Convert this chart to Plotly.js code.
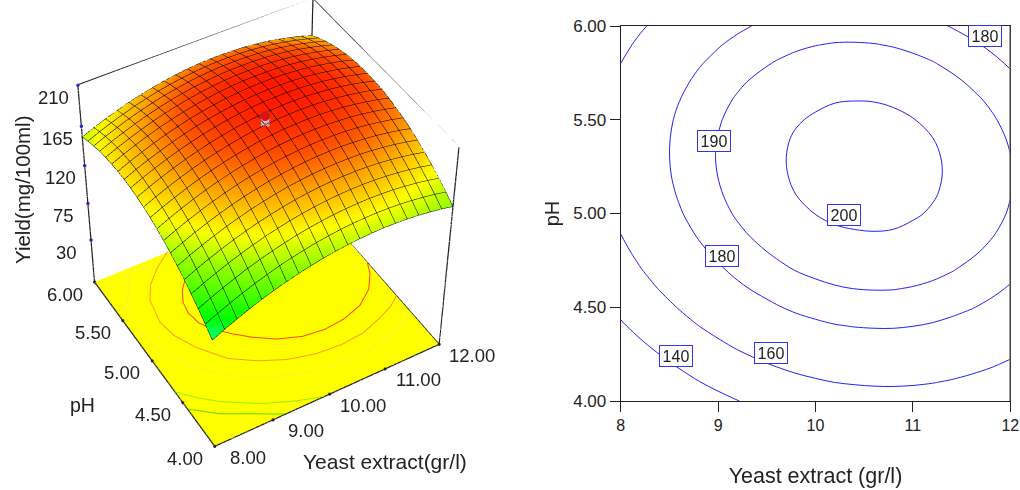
<!DOCTYPE html>
<html><head><meta charset="utf-8">
<script src="https://cdn.plot.ly/plotly-3.0.1.min.js"></script>
<style>html,body{margin:0;padding:0;background:#fff;overflow:hidden;width:1020px;height:490px}#w{width:1020px;height:490px;overflow:hidden;position:relative}#c{position:absolute;left:0;top:-555px;width:1020px;height:1600px}</style>
</head><body><div id="w"><div id="c"></div></div><script>
const yeast=[8,8.2,8.4,8.6,8.8,9,9.2,9.4,9.6,9.8,10,10.2,10.4,10.6,10.8,11,11.2,11.4,11.6,11.8,12];
const ph=[4,4.1,4.2,4.3,4.4,4.5,4.6,4.7,4.8,4.9,5,5.1,5.2,5.3,5.4,5.5,5.6,5.7,5.8,5.9,6];
const yieldZ=[
[108.8,115.2,121.0,126.4,131.4,135.8,139.7,143.1,146.1,148.7,150.7,152.3,153.3,153.9,154.1,153.7,152.9,151.5,149.7,147.5,144.7],
[117.1,123.4,129.2,134.5,139.5,143.8,147.8,151.1,154.0,156.6,158.5,160.1,161.0,161.6,161.7,161.3,160.4,159.0,157.1,154.9,152.0],
[124.7,131.0,136.7,142.0,146.9,151.2,155.1,158.4,161.3,163.8,165.7,167.2,168.1,168.6,168.7,168.2,167.3,165.8,163.9,161.5,158.6],
[131.7,137.9,143.6,148.8,153.7,157.9,161.8,165.0,167.9,170.3,172.2,173.6,174.5,174.9,175.0,174.4,173.5,171.9,170.0,167.6,164.7],
[138.1,144.3,149.9,155.1,159.9,164.1,167.9,171.1,173.9,176.3,178.1,179.5,180.3,180.7,180.7,180.1,179.1,177.5,175.5,173.1,170.1],
[143.8,150.0,155.6,160.7,165.5,169.6,173.4,176.5,179.3,181.7,183.4,184.8,185.5,185.9,185.8,185.2,184.2,182.5,180.5,178.0,175.0],
[148.9,155.0,160.6,165.7,170.4,174.5,178.2,181.3,184.0,186.3,188.0,189.3,190.1,190.4,190.3,189.6,188.5,186.8,184.7,182.2,179.1],
[153.3,159.4,164.9,169.9,174.6,178.6,182.3,185.4,188.0,190.3,191.9,193.2,193.9,194.1,194.0,193.3,192.1,190.4,188.2,185.7,182.6],
[157.1,163.1,168.6,173.6,178.2,182.2,185.8,188.8,191.4,193.7,195.3,196.5,197.1,197.3,197.1,196.3,195.2,193.4,191.2,188.6,185.4],
[160.3,166.3,171.6,176.6,181.2,185.2,188.7,191.7,194.3,196.4,198.0,199.2,199.7,199.9,199.7,198.8,197.6,195.8,193.5,190.9,187.7],
[162.9,168.8,174.1,179.1,183.6,187.5,191.0,193.9,196.5,198.6,200.1,201.2,201.7,201.9,201.6,200.7,199.4,197.5,195.3,192.6,189.3],
[164.7,170.6,175.9,180.8,185.2,189.1,192.6,195.5,197.9,200.0,201.5,202.5,203.0,203.1,202.8,201.8,200.5,198.6,196.3,193.5,190.2],
[166.0,171.8,177.1,181.9,186.3,190.1,193.6,196.4,198.8,200.8,202.3,203.3,203.7,203.7,203.3,202.4,201.0,199.0,196.7,193.9,190.5],
[166.6,172.4,177.6,182.3,186.7,190.5,193.9,196.7,199.0,201.0,202.4,203.4,203.7,203.7,203.3,202.3,200.9,198.8,196.4,193.6,190.2],
[166.6,172.3,177.4,182.2,186.5,190.2,193.6,196.3,198.6,200.6,201.9,202.8,203.1,203.1,202.6,201.5,200.1,198.0,195.5,192.7,189.2],
[165.9,171.6,176.7,181.4,185.7,189.3,192.6,195.3,197.6,199.5,200.7,201.6,201.9,201.8,201.3,200.2,198.6,196.5,194.0,191.1,187.6],
[164.6,170.2,175.3,179.9,184.2,187.8,191.0,193.7,195.9,197.7,199.0,199.8,200.0,199.9,199.3,198.1,196.6,194.4,191.9,188.9,185.3],
[162.7,168.2,173.2,177.8,182.0,185.6,188.8,191.4,193.6,195.3,196.5,197.3,197.5,197.3,196.7,195.5,193.9,191.7,189.0,186.0,182.4],
[160.0,165.6,170.5,175.1,179.2,182.7,185.9,188.4,190.6,192.3,193.5,194.2,194.3,194.1,193.4,192.2,190.5,188.2,185.6,182.5,178.9],
[156.8,162.3,167.2,171.7,175.8,179.3,182.4,184.9,187.0,188.7,189.8,190.5,190.6,190.3,189.5,188.2,186.5,184.2,181.5,178.4,174.7],
[152.9,158.4,163.2,167.7,171.7,175.2,178.2,180.7,182.7,184.3,185.4,186.0,186.1,185.7,185.0,183.6,181.9,179.5,176.8,173.6,169.8]];
const zMin=-24, zMax=210;
const zTicks=[30,75,120,165,210];
const phTicks=[4,4.5,5,5.5,6];
const yeastTicks3d=[8,9,10,11,12];
const yeastTicks2d=[8,9,10,11,12];
const levels=[140,160,180,190,200];
const c140x=[8,8.37,8.781,9.209], c140y=[4.421,4.256,4.132,4];
const c150x=[8,8.25,8.5,9,9.5,9.9], c150y=[4.624,4.475,4.358,4.184,4.066,4];
const c170x=[8.7,8.5,8.2,8.15,8.12,8.15,8.2,8.5,8.7,9,9.5,10,10.5,11,11.5,12];
const c170y=[5.995,5.888,5.611,5.517,5.34,5.163,5.065,4.766,4.645,4.508,4.356,4.265,4.224,4.228,4.282,4.397];
const c180x=[9.329,9.021,8.747,8.575,8.483,8.541,8.712,9.021,9.397,9.808,10.253,10.699,11.11,11.521,11.795,12];
const c180y=[6,5.883,5.74,5.589,5.332,5.145,4.949,4.718,4.576,4.469,4.407,4.388,4.407,4.478,4.54,4.617];
const c190x=[12,11.932,11.76,11.521,11.178,10.801,10.373,9.979,9.637,9.329,9.123,9.003,8.962,9.003,9.123,9.329,9.568,9.877,10.253,10.63,11.007,11.384,11.692,11.897,12];
const c190y=[5.34,5.483,5.625,5.74,5.838,5.897,5.913,5.883,5.803,5.678,5.554,5.429,5.305,5.163,5.056,4.932,4.816,4.7,4.62,4.594,4.612,4.674,4.789,4.932,5.056];
const labelText=['140','160','180','190','200','180'];
const labelX=[8.568,9.541,9.038,8.955,10.288,11.74];
const labelY=[4.238,4.256,4.772,5.388,4.992,5.945];
const pointZ=[210,207,204,201];
const pointColor=['#dd1111','#f4b8b8','#f4c8c8','#f4c8c8'];

const H=1600, OFF=555;
const px=v=>v/1020, py=v=>1-(v+OFF)/H;
const FF='"Liberation Sans",Arial,sans-serif', INK='#222';
const colors=[[0,'#00ff80'],[0.12,'#00ff00'],[0.42,'#a0ff00'],[0.56,'#ffff00'],[0.75,'#ffa000'],[0.88,'#ff5000'],[1,'#ff1800']];
const flat={ambient:1,diffuse:0,specular:0,roughness:1,fresnel:0};
const traces=[];
traces.push({type:'surface',scene:'scene',x:yeast,y:ph,z:yieldZ,colorscale:colors,cmin:108.8,cmax:204,showscale:false,lighting:flat,hoverinfo:'skip',
 contours:{x:{show:true,start:8,end:12,size:0.2,color:'#000',width:4,highlight:false},y:{show:true,start:4,end:6,size:0.1,color:'#000',width:4,highlight:false},z:{highlight:false}}});
traces.push({type:'mesh3d',scene:'scene',x:[8,12,12,8],y:[4,4,6,6],z:[zMin,zMin,zMin,zMin],i:[0,0],j:[1,2],k:[2,3],color:'#ffff00',flatshading:true,lighting:flat,hoverinfo:'skip'});
function flr(x,y,c,w){traces.push({type:'scatter3d',scene:'scene',mode:'lines',x:x,y:y,z:x.map(()=>zMin+0.5),line:{color:c,width:w||2},showlegend:false,hoverinfo:'skip'});}
flr(c140x,c140y,'#55dd00');flr(c150x,c150y,'#99ee00');flr(c170x,c170y,'#ffee33');flr(c180x,c180y,'#ff9922');flr(c190x,c190y,'#ff4411');
const edge={type:'scatter3d',scene:'scene',mode:'lines',line:{color:INK,width:2.5},hoverinfo:'skip',showlegend:false};
traces.push(Object.assign({},edge,{x:[8,8],y:[6,6],z:[zMin,zMax]}));
traces.push(Object.assign({},edge,{x:[12,12],y:[4,4],z:[zMax,zMin]}));
traces.push(Object.assign({},edge,{x:[12,12],y:[6,6],z:[zMax,zMin]}));
traces.push(Object.assign({},edge,{x:[12,8,8,12,12],y:[4,4,6,6,4],z:[zMin,zMin,zMin,zMin,zMin]}));
const zTop=zMax+1.2;
traces.push({type:'mesh3d',scene:'scene',x:[8,12,12,8],y:[6,6,6,6],z:[zMax,zMax,zTop,zTop],i:[0,0],j:[1,2],k:[2,3],color:INK,flatshading:true,lighting:flat,hoverinfo:'skip'});
traces.push({type:'mesh3d',scene:'scene',x:[12,12,12,12],y:[6,4,4,6],z:[zMax,zMax,zTop,zTop],i:[0,0],j:[1,2],k:[2,3],color:INK,flatshading:true,lighting:flat,hoverinfo:'skip'});
traces.push({type:'scatter3d',scene:'scene',mode:'markers',x:zTicks.map(()=>8),y:zTicks.map(()=>6),z:zTicks,marker:{color:'#2233dd',size:2},hoverinfo:'skip',showlegend:false});
traces.push({type:'scatter3d',scene:'scene',mode:'markers',x:phTicks.map(()=>8).concat(yeastTicks3d),y:phTicks.concat(yeastTicks3d.map(()=>4)),z:phTicks.concat(yeastTicks3d).map(()=>zMin),marker:{color:'#222',size:1.8},hoverinfo:'skip',showlegend:false});
traces.push({type:'scatter3d',scene:'scene',mode:'markers',x:pointZ.map(()=>10),y:pointZ.map(()=>5),z:pointZ,marker:{color:pointColor,size:5.5,line:{color:'#a33',width:1}},hoverinfo:'skip',showlegend:false});

levels.forEach(l=>traces.push({type:'contour',xaxis:'x',yaxis:'y',x:yeast,y:ph,z:yieldZ,autocontour:false,showscale:false,hoverinfo:'skip',
 contours:{coloring:'lines',start:l,end:l,size:10,showlabels:false},line:{width:1,smoothing:1,color:'#2222ee'},colorscale:[[0,'#2222ee'],[1,'#2222ee']]}));

const ax3=(ticks,range)=>({title:{text:''},tickvals:ticks,range:range,autorange:false,showticklabels:false,
 showgrid:false,zeroline:false,showline:false,showbackground:false,showspikes:false,ticks:''});
const lab=(x,y,z,t,dx,dy)=>({x:x,y:y,z:z,text:t,showarrow:false,xshift:dx,yshift:dy,font:{family:FF,size:18.5,color:INK}});
const sceneAnn=[]
 .concat(zTicks.map(v=>lab(8,6,v,String(v),-24,-12)))
 .concat(phTicks.map(v=>lab(8,v,zMin,v.toFixed(2),-30,-12)))
 .concat(yeastTicks3d.map(v=>lab(v,4,zMin,v.toFixed(2),33,-11)));
const paperTxt=(x,y,t,size,ang)=>({xref:'paper',yref:'paper',x:px(x),y:py(y),xanchor:'center',yanchor:'middle',text:t,showarrow:false,textangle:ang||0,font:{family:FF,size:size,color:INK}});
const layout={width:1020,height:H,margin:{l:0,r:0,t:0,b:0},paper_bgcolor:'#fff',plot_bgcolor:'#fff',showlegend:false,font:{family:FF,color:INK},
 scene:{domain:{x:[0,0.5],y:[0,1]},aspectmode:'manual',aspectratio:{x:0.995,y:0.97,z:1.05},
  camera:{eye:{x:-2.641,y:-4.432,z:5.034},center:{x:-0.031,y:0.018,z:-0.136},up:{x:0,y:0,z:1},projection:{type:'perspective'}},
  xaxis:ax3(yeastTicks3d,[8,12]),yaxis:ax3(phTicks,[4,6]),zaxis:ax3(zTicks,[zMin-3,zMax+3]),annotations:sceneAnn},
 xaxis:{domain:[0.6085,0.9905],range:[8,12],tickvals:yeastTicks2d,ticks:'outside',ticklen:10,tickcolor:INK,linecolor:INK,linewidth:1,mirror:true,showline:true,showgrid:false,zeroline:false,tickfont:{size:16,color:INK},title:{text:'Yeast extract (gr/l)',font:{size:21.5,color:INK},standoff:34}},
 yaxis:{domain:[py(401),py(26)],range:[4,6],tickvals:phTicks,tickformat:'.2f',ticks:'outside',ticklen:10,tickcolor:INK,linecolor:INK,linewidth:1,mirror:true,showline:true,showgrid:false,zeroline:false,tickfont:{size:17,color:INK},title:{text:'pH',font:{size:20,color:INK},standoff:8}},
 shapes:[{type:'line',xref:'x',yref:'y',x0:12,x1:12,y0:4,y1:6,line:{color:'#777',width:2}}],
 annotations:labelText.map((t,i)=>({xref:'x',yref:'y',x:labelX[i],y:labelY[i],text:t,showarrow:false,bgcolor:'#fff',bordercolor:'#3333ee',borderwidth:1,borderpad:0,width:32,height:20,font:{size:16,color:INK}}))
  .concat([paperTxt(23,190,'Yield(mg/100ml)',20.5,-90),paperTxt(82,405,'pH',19.5),paperTxt(385,461,'Yeast extract(gr/l)',21)])};
Plotly.newPlot('c',traces,layout,{displayModeBar:false});
</script></body></html>
